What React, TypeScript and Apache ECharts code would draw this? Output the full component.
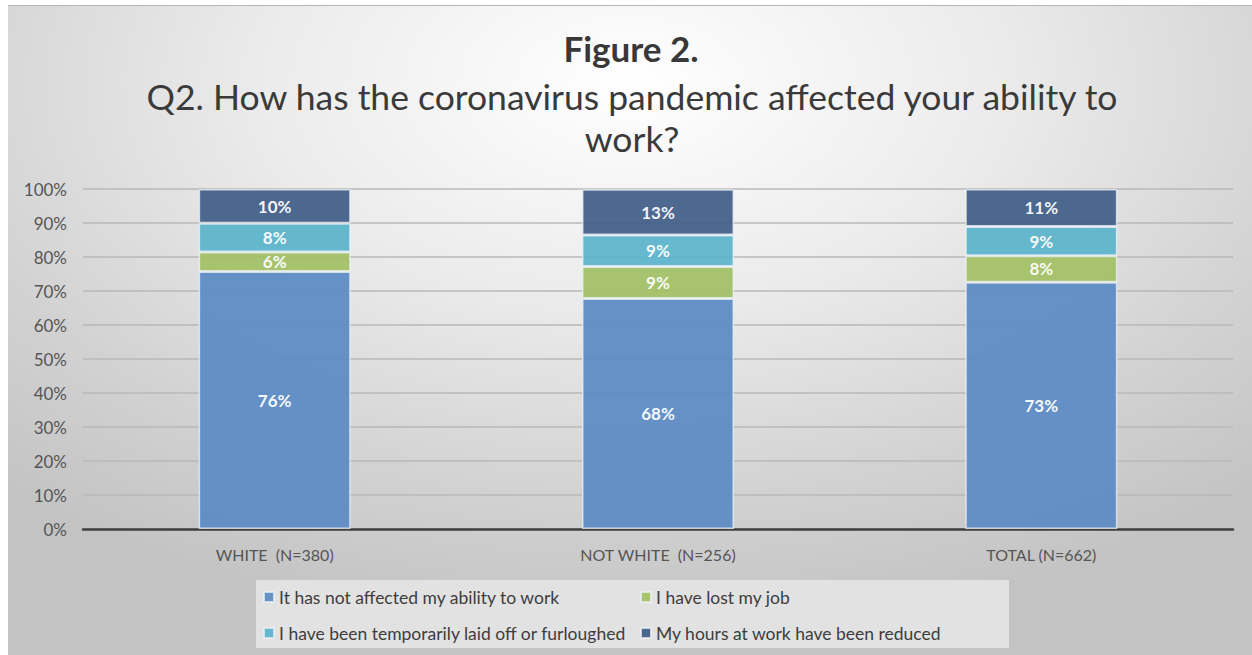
import React, { useEffect, useRef } from "react";
import * as echarts from "echarts";

const categories = ["WHITE  (N=380)", "NOT WHITE  (N=256)", "TOTAL (N=662)"];
const seriesNames = [
  "It has not affected my ability to work",
  "I have lost my job",
  "I have been temporarily laid off or furloughed",
  "My hours at work have been reduced",
];
const notAffected = [75.7, 67.8, 72.6];
const lostJob = [5.8, 9.4, 7.8];
const laidOff = [8.4, 9.3, 8.6];
const hoursReduced = [10.1, 13.4, 11.0];
const yTicks = [0, 10, 20, 30, 40, 50, 60, 70, 80, 90, 100];
const colors = ["#5f8cc4", "#a3c167", "#5db4cb", "#43618a"];

const FONT = "Lato, 'Open Sans', sans-serif";

export default function App() {
  const ref = useRef<HTMLDivElement>(null);
  useEffect(() => {
    if (!ref.current) return;
    const chart = echarts.init(ref.current, undefined, { renderer: "svg" });
    const values = [notAffected, lostJob, laidOff, hoursReduced];
    const legendPos = [
      { left: 255, top: 581 },
      { left: 632, top: 581 },
      { left: 255, top: 617 },
      { left: 632, top: 617 },
    ];
    chart.setOption({
      animation: false,
      textStyle: { fontFamily: FONT },
      graphic: [
        {
          type: "rect",
          shape: { x: 248, y: 574, width: 753, height: 68 },
          style: { fill: "#e2e2e2" },
          z: -1,
        },
        {
          type: "text",
          x: 623,
          y: 42,
          style: {
            text: "Figure 2.",
            font: `bold 35px ${FONT}`,
            fill: "#383838",
            textAlign: "center",
            textVerticalAlign: "middle",
          },
        },
        {
          type: "text",
          x: 624,
          y: 69,
          style: {
            text: "Q2. How has the coronavirus pandemic affected your ability to\nwork?",
            font: `35.5px ${FONT}`,
            lineHeight: 42,
            fill: "#3a3a3a",
            textAlign: "center",
            textVerticalAlign: "top",
          },
        },
      ],
      legend: seriesNames.map((n, i) => ({
        data: [n],
        left: legendPos[i].left,
        top: legendPos[i].top,
        padding: 0,
        itemWidth: 10,
        itemHeight: 10,
        itemGap: 0,
        icon: "rect",
        selectedMode: false,
        textStyle: { fontSize: 17.5, color: "#3d3d3d", fontFamily: FONT, lineHeight: 20 },
      })),
      grid: { left: 75, right: 19, top: 183, bottom: 126, containLabel: false },
      xAxis: {
        type: "category",
        data: categories,
        axisTick: { show: false },
        axisLine: { lineStyle: { color: "#3f3f3f", width: 2.5 } },
        axisLabel: { color: "#555555", fontSize: 16, margin: 17, fontFamily: FONT },
      },
      yAxis: {
        type: "value",
        min: 0,
        max: 100,
        interval: 10,
        axisLabel: {
          color: "#555555",
          fontSize: 17,
          margin: 16,
          fontFamily: FONT,
          formatter: (v: number) => (yTicks.includes(v) ? v + "%" : ""),
        },
        axisLine: { show: false },
        axisTick: { show: false },
        splitLine: { lineStyle: { color: "#b8b8b8", width: 1.5 } },
      },
      series: values.map((d, i) => ({
        name: seriesNames[i],
        type: "bar",
        stack: "total",
        barWidth: 152,
        data: d,
        itemStyle: {
          color: colors[i],
          opacity: 0.95,
          borderColor: "rgba(235,240,245,0.8)",
          borderWidth: 1.5,
        },
        label: {
          show: true,
          position: "inside",
          color: "#ffffff",
          fontWeight: "bold",
          fontSize: 17,
          fontFamily: FONT,
          formatter: (p: any) => Math.round(p.value) + "%",
        },
      })),
    });
    return () => chart.dispose();
  }, []);
  return (
    <div
      ref={ref}
      style={{
        position: "absolute",
        left: 8,
        top: 5,
        width: 1244,
        height: 650,
        boxSizing: "border-box",
        borderTop: "1.5px solid #b5b5b5",
        background:
          "radial-gradient(ellipse 75% 85% at 50% 12%, #ffffff 0%, #ebebeb 40%, #d2d2d2 75%, #c3c3c3 100%)",
      }}
    />
  );
}
